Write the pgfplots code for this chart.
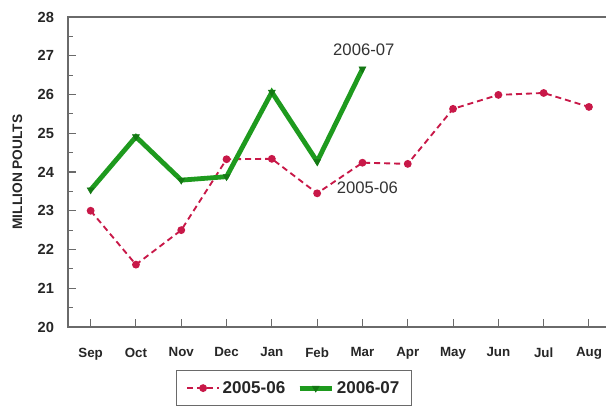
\documentclass[border=0pt]{standalone}
\usepackage{pgfplots}
\pgfplotsset{compat=1.18}
\usepackage{fontspec}
\setmainfont{Liberation Sans}
\usetikzlibrary{calc}
\definecolor{redc}{HTML}{C81848}
\definecolor{greenc}{HTML}{1E9A1E}
\definecolor{greenm}{HTML}{147814}
\definecolor{axgray}{HTML}{6A6A6A}
\begin{document}
\begin{tikzpicture}
\begin{axis}[
  x=33.975pt, y=29.06pt,
  xmin=-0.5, xmax=11.5, ymin=20, ymax=28,
  axis line style={axgray, line width=0.9pt},
  xtick={0,...,11},
  xticklabels={Sep,Oct,Nov,Dec,Jan,Feb,Mar,Apr,May,Jun,Jul,Aug},
  ytick={20,...,28},
  minor ytick={20.5,21.5,...,27.5},
  tick align=inside,
  xtick pos=bottom, ytick pos=left,
  major tick length=6pt, minor tick length=3.5pt,
  tick style={axgray, line width=0.8pt},
  /pgf/number format/assume math mode=true,
  x tick label style={font=\bfseries\fontsize{10}{12}\selectfont, text=black!85, yshift=-12pt},
  y tick label style={font=\bfseries\fontsize{11}{13}\selectfont, text=black!85, xshift=-7pt},
  ylabel={MILLION POULTS},
  every axis y label/.style={at={(rel axis cs:0,0.5)}, xshift=-38pt, rotate=90, anchor=center,
    font=\bfseries\fontsize{10.3}{12}\selectfont, text=black!85},
  legend columns=2,
  legend style={at={(0.416,-0.139)}, anchor=north, draw=axgray, line width=0.6pt,
    font=\bfseries\fontsize{12.8}{14}\selectfont, text=black!85,
    inner xsep=7pt, inner ysep=6pt,
    /tikz/every even column/.append style={column sep=7pt}},
  legend image code/.code={\draw[#1] (0pt,0pt) -- (24pt,0pt); \draw[#1, mark repeat=2, mark phase=2] plot coordinates {(0pt,0pt) (12pt,0pt) (24pt,0pt)};},
  clip=false,
]
\addplot[redc, line width=1.4pt, dash pattern=on 4.5pt off 3pt, mark=*, mark size=2.2pt,
  mark options={solid, fill=redc, draw=redc}]
  coordinates {(0,23.0) (1,21.61) (2,22.5) (3,24.33) (4,24.34) (5,23.45) (6,24.24) (7,24.21) (8,25.63) (9,25.99) (10,26.04) (11,25.68)};
\addlegendentry{2005-06}
\addplot[greenc, line width=3.6pt, mark=triangle*, mark size=3pt,
  mark options={rotate=180, fill=greenm, draw=greenm, line width=0.4pt}]
  coordinates {(0,23.54) (1,24.91) (2,23.79) (3,23.88) (4,26.06) (5,24.27) (6,26.66)};
\addlegendentry{2006-07}
\node[font=\fontsize{12.5}{14}\selectfont, text=black!80] at (axis cs:6.03,27.15) {2006-07};
\node[font=\fontsize{12.5}{14}\selectfont, text=black!80] at (axis cs:6.11,23.59) {2005-06};
\end{axis}
\pgfresetboundingbox
\useasboundingbox ($(current axis.south west)+(-51pt,-60pt)$) rectangle ($(current axis.south west)+(403.5pt,245.25pt)$);
\end{tikzpicture}
\end{document}
